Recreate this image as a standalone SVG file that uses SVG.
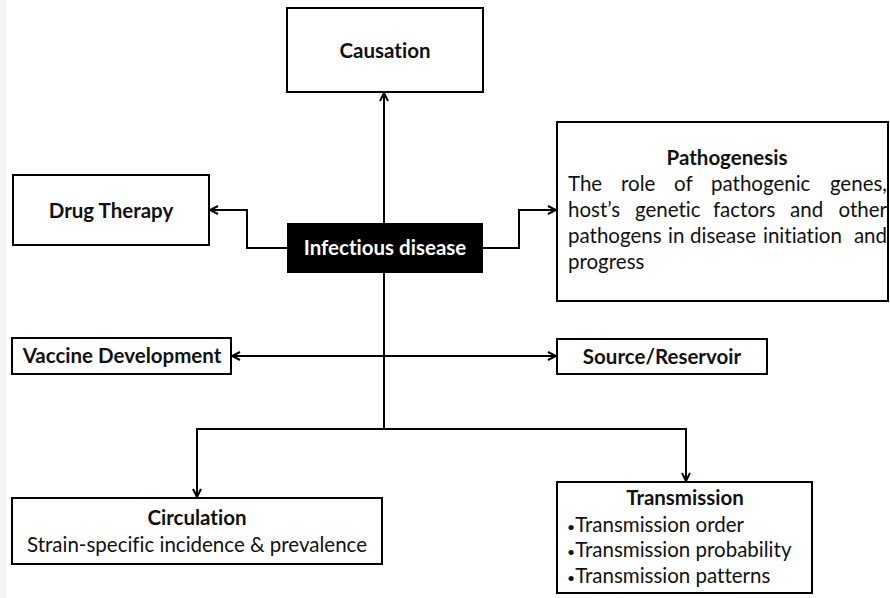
<svg xmlns="http://www.w3.org/2000/svg" width="890" height="598" viewBox="0 0 890 598">
<style>
.box{fill:#fff;stroke:#000;stroke-width:2}
.t{font-family:Lato,"Noto Sans",sans-serif;font-size:20.5px;fill:#111;font-variant-ligatures:none}
.b{font-weight:bold}
.c{text-anchor:middle}
.ln{fill:none;stroke:#000;stroke-width:2}
.bu{font-size:14px}
</style>
<defs>
<marker id="ah" viewBox="0 0 10 10" refX="9" refY="5" markerWidth="10" markerHeight="10" markerUnits="userSpaceOnUse" orient="auto-start-reverse">
<path d="M1,1 L9,5 L1,9" fill="none" stroke="#000" stroke-width="2"/>
</marker>
</defs>
<rect width="890" height="598" fill="#fff"/>
<rect width="6" height="598" fill="#f3f3f3"/>
<g id="connectors">
<path class="ln" d="M384,223 V93" marker-end="url(#ah)"/>
<path class="ln" d="M287,248 H247 V210 H210" marker-end="url(#ah)"/>
<path class="ln" d="M483,248 H519 V210 H556" marker-end="url(#ah)"/>
<path class="ln" d="M384,273 V429"/>
<path class="ln" d="M232,356 H556" marker-start="url(#ah)" marker-end="url(#ah)"/>
<path class="ln" d="M197,497 V429 H686 V481" marker-start="url(#ah)" marker-end="url(#ah)"/>
</g>
<g id="causation">
<rect class="box" x="287" y="8" width="196" height="84"/>
<text class="t b c" x="385" y="58">Causation</text>
</g>
<g id="drug-therapy">
<rect class="box" x="13" y="175" width="196" height="70"/>
<text class="t b c" x="111" y="218">Drug Therapy</text>
</g>
<g id="infectious-disease">
<rect x="287" y="223" width="196" height="50" fill="#000"/>
<text class="t b c" x="385" y="255" style="fill:#fff">Infectious disease</text>
</g>
<g id="pathogenesis">
<rect class="box" x="557" y="122" width="331" height="179"/>
<text class="t b c" x="727" y="165">Pathogenesis</text>
<text class="t" y="191"><tspan x="568">The</tspan><tspan x="621">role</tspan><tspan x="674">of</tspan><tspan x="711">pathogenic</tspan><tspan x="887" text-anchor="end">genes,</tspan></text>
<text class="t" y="217"><tspan x="568">host’s</tspan><tspan x="635">genetic</tspan><tspan x="713">factors</tspan><tspan x="790">and</tspan><tspan x="887" text-anchor="end">other</tspan></text>
<text class="t" y="243"><tspan x="568">pathogens</tspan><tspan x="668">in</tspan><tspan x="690">disease</tspan><tspan x="763">initiation</tspan><tspan x="887" text-anchor="end">and</tspan></text>
<text class="t" x="568" y="269">progress</text>
</g>
<g id="vaccine-development">
<rect class="box" x="12" y="338" width="219" height="36"/>
<text class="t b c" x="122" y="363">Vaccine Development</text>
</g>
<g id="source-reservoir">
<rect class="box" x="557" y="339" width="210" height="35"/>
<text class="t b c" x="662" y="364">Source/Reservoir</text>
</g>
<g id="circulation">
<rect class="box" x="12" y="498" width="370" height="66"/>
<text class="t b c" x="197" y="525">Circulation</text>
<text class="t c" x="197" y="552">Strain-specific incidence &amp; prevalence</text>
</g>
<g id="transmission">
<rect class="box" x="557" y="482" width="255" height="111"/>
<text class="t b c" x="685" y="505">Transmission</text>
<text class="t" x="567" y="532"><tspan class="bu">•</tspan>Transmission order</text>
<text class="t" x="567" y="557"><tspan class="bu">•</tspan>Transmission probability</text>
<text class="t" x="567" y="583"><tspan class="bu">•</tspan>Transmission patterns</text>
</g>
</svg>
